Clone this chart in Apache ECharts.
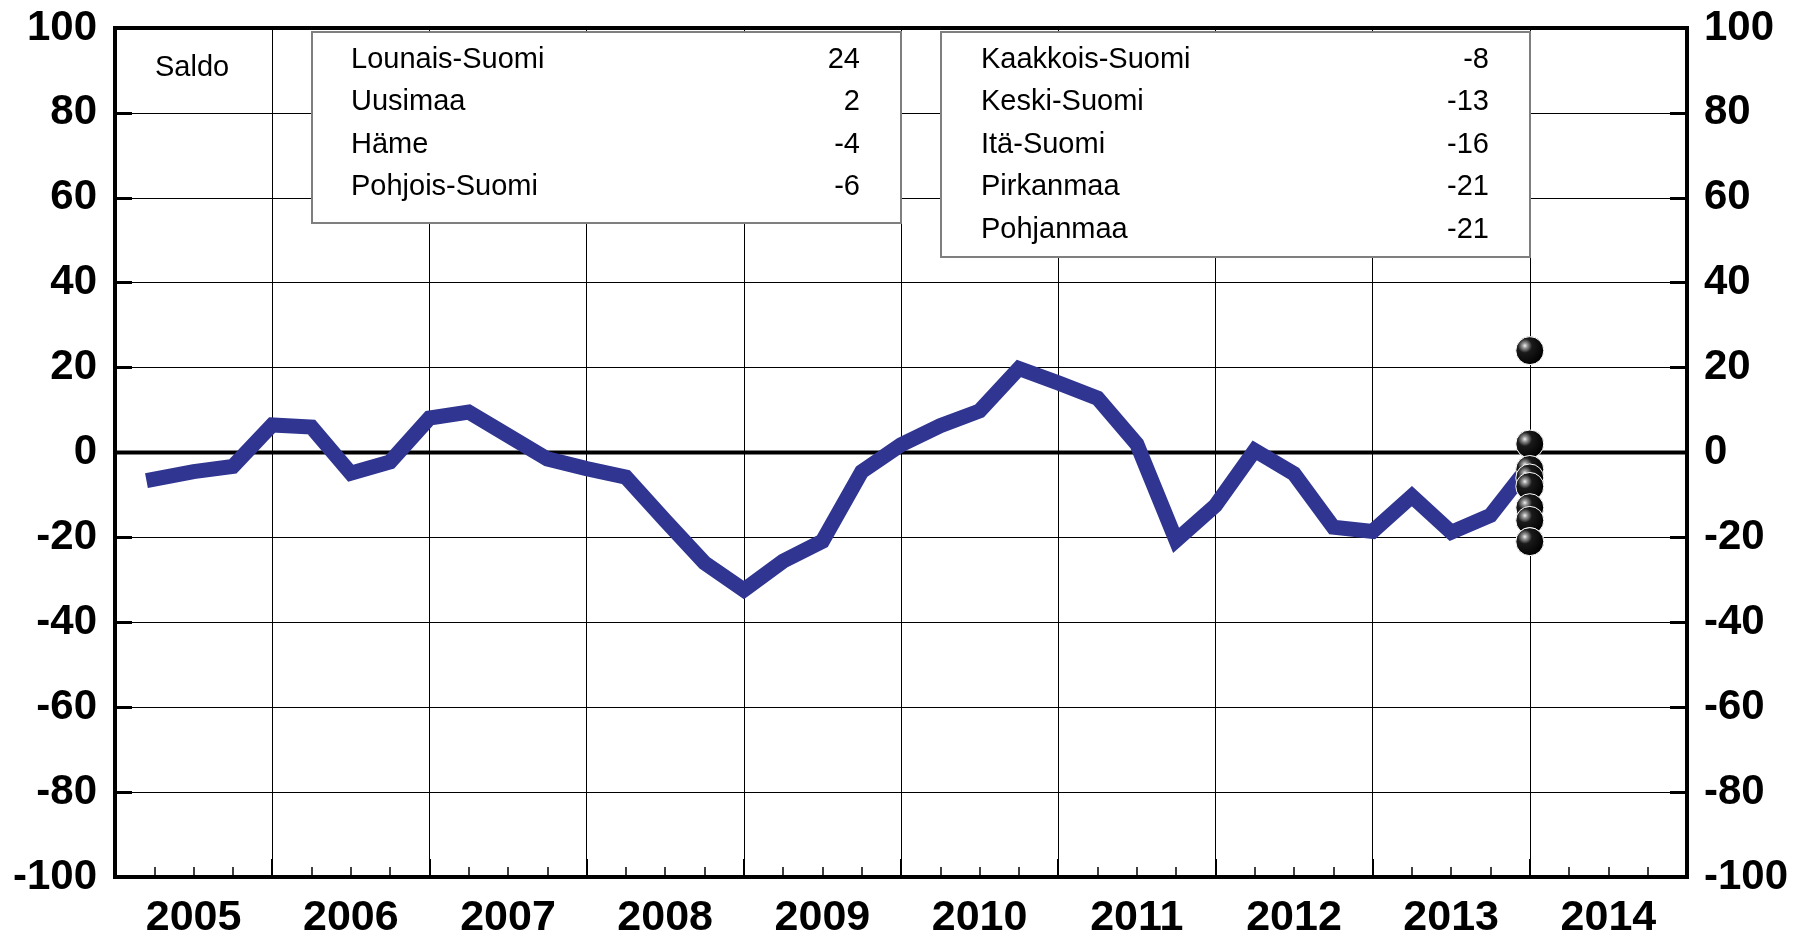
<!DOCTYPE html>
<html>
<head>
<meta charset="utf-8">
<title>Saldo</title>
<script src="https://cdn.jsdelivr.net/npm/echarts@6/dist/echarts.min.js"></script>
<style>
  html, body { margin: 0; padding: 0; background: #fff; }
  #chart { width: 1800px; height: 939px; }
</style>
</head>
<body>
<div id="chart"></div>
<script>
// year labels under the x axis (one per year band)
const years = ['2005', '2006', '2007', '2008', '2009', '2010', '2011', '2012', '2013', '2014'];

// quarterly observations, x position in years
const periods = [2005.2].concat(Array.from({ length: 35 }, (_, i) => 2005.5 + i * 0.25));

// saldo, whole country
const saldo = [
  -6.6, -4.5, -3.3,
  6.5, 6.0, -4.9, -2.2,
  8.1, 9.5, 4.0, -1.5,
  -3.8, -5.8, -16.0, -26.0,
  -32.4, -25.6, -20.9, -4.5,
  1.8, 6.3, 9.8, 19.8,
  16.4, 12.8, 2.0, -20.7,
  -12.5, 0.5, -5.0, -17.6,
  -18.6, -10.3, -18.8, -14.8,
  -3.0
];

// latest regional values
const leftRegions = ['Lounais-Suomi', 'Uusimaa', 'Häme', 'Pohjois-Suomi'];
const leftValues = [24, 2, -4, -6];
const rightRegions = ['Kaakkois-Suomi', 'Keski-Suomi', 'Itä-Suomi', 'Pirkanmaa', 'Pohjanmaa'];
const rightValues = [-8, -13, -16, -21, -21];
const dotPeriod = 2014.0;

const FONT = '"Liberation Sans", Arial, Helvetica, sans-serif';

function legendBox(names, values, box) {
  var els = [{
    type: 'rect',
    z: 100,
    shape: { x: box.x, y: box.y, width: box.w, height: box.h },
    style: { fill: '#fff', stroke: '#7f7f7f', lineWidth: 2 }
  }];
  names.forEach(function (name, i) {
    var y = box.rowTop + i * box.rowGap;
    els.push({
      type: 'text', z: 101, x: box.nameX, y: y,
      style: { text: name, font: '29px ' + FONT, fill: '#000', align: 'left', verticalAlign: 'middle' }
    });
    els.push({
      type: 'text', z: 101, x: box.valueX, y: y,
      style: { text: String(values[i]), font: '29px ' + FONT, fill: '#000', align: 'right', verticalAlign: 'middle' }
    });
  });
  return els;
}

const chart = echarts.init(document.getElementById('chart'), null, { renderer: 'canvas' });

var yAxisCommon = {
  type: 'value',
  min: -100,
  max: 100,
  interval: 20,
  axisLine: { show: true, onZero: false, lineStyle: { color: '#000', width: 4 } },
  axisTick: { show: true, inside: true, length: 17, lineStyle: { color: '#000', width: 3 } },
  axisLabel: { color: '#000', fontFamily: FONT, fontWeight: 'bold', fontSize: 42 }
};

var option = {
  animation: false,
  backgroundColor: '#fff',
  grid: {
    left: 115, right: 113, top: 28, bottom: 62,
    show: true, borderColor: '#000', borderWidth: 4,
    outerBoundsMode: 'none'
  },
  xAxis: [{
    type: 'value',
    min: 2005,
    max: 2015,
    interval: 1,
    position: 'bottom',
    axisLine: { show: true, onZero: false, lineStyle: { color: '#000', width: 4 } },
    axisTick: { show: true, inside: true, length: 18, lineStyle: { color: '#000', width: 2 } },
    minorTick: { show: true, splitNumber: 4, length: 10, lineStyle: { color: '#000', width: 1.5 } },
    axisLabel: { show: false },
    splitLine: { show: true, lineStyle: { color: '#000', width: 1 } }
  }, {
    type: 'category',
    data: years,
    position: 'bottom',
    boundaryGap: true,
    axisLine: { show: false },
    axisTick: { show: false },
    splitLine: { show: false },
    axisLabel: { color: '#000', fontFamily: FONT, fontWeight: 'bold', fontSize: 43, margin: 20, interval: 0 }
  }],
  yAxis: [
    Object.assign({}, yAxisCommon, {
      position: 'left',
      axisLabel: Object.assign({}, yAxisCommon.axisLabel, { margin: 18 }),
      splitLine: { show: true, lineStyle: { color: '#000', width: 1 } }
    }),
    Object.assign({}, yAxisCommon, {
      position: 'right',
      axisLabel: Object.assign({}, yAxisCommon.axisLabel, { margin: 17 }),
      splitLine: { show: false }
    })
  ],
  series: [
    {
      // zero reference line
      type: 'line',
      xAxisIndex: 0,
      yAxisIndex: 0,
      z: 1,
      silent: true,
      symbol: 'none',
      data: [[2005, 0], [2015, 0]],
      lineStyle: { color: '#000', width: 4 }
    },
    {
      name: 'Saldo',
      type: 'line',
      xAxisIndex: 0,
      yAxisIndex: 0,
      z: 3,
      symbol: 'none',
      data: periods.map(function (p, i) { return [p, saldo[i]]; }),
      lineStyle: { color: '#2f3590', width: 15, cap: 'butt', join: 'miter' }
    },
    {
      type: 'scatter',
      xAxisIndex: 0,
      yAxisIndex: 0,
      z: 4,
      symbol: 'circle',
      symbolSize: 28,
      data: leftValues.concat(rightValues).map(function (v) { return [dotPeriod, v]; }),
      itemStyle: {
        color: {
          type: 'radial', x: 0.33, y: 0.33, r: 0.7,
          colorStops: [
            { offset: 0, color: '#f2f2f2' },
            { offset: 0.12, color: '#9a9a9a' },
            { offset: 0.35, color: '#1a1a1a' },
            { offset: 1, color: '#000' }
          ]
        },
        borderColor: '#fff',
        borderWidth: 1,
        opacity: 1
      }
    }
  ],
  graphic: [{
    type: 'text', z: 101, x: 155, y: 68,
    style: { text: 'Saldo', font: '29px ' + FONT, fill: '#000', align: 'left', verticalAlign: 'middle' }
  }]
    .concat(legendBox(leftRegions, leftValues, {
      x: 312, y: 32, w: 589, h: 191, nameX: 351, valueX: 860, rowTop: 60, rowGap: 42.4
    }))
    .concat(legendBox(rightRegions, rightValues, {
      x: 941, y: 32, w: 589, h: 225, nameX: 981, valueX: 1489, rowTop: 60, rowGap: 42.4
    }))
};

chart.setOption(option);
</script>
</body>
</html>
